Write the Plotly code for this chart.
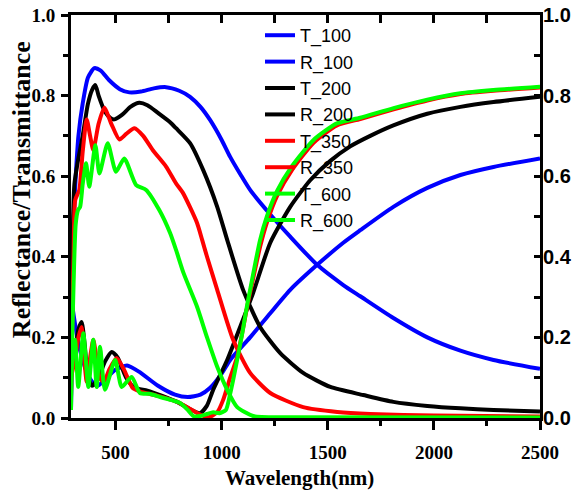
import plotly.graph_objects as go

# ---------------- data ----------------
wl_T100 = [290, 295, 300, 305, 314, 325, 345, 370, 400, 430, 470, 520, 565, 620, 680, 738, 800, 851, 900, 946,
           1000, 1040, 1090, 1134, 1229, 1323, 1450, 1573, 1653, 1809, 1969, 2125, 2281, 2500]
T100 = [0.02, 0.20, 0.40, 0.52, 0.615, 0.70, 0.78, 0.845, 0.868, 0.862, 0.838, 0.816, 0.808, 0.810, 0.818, 0.821,
        0.812, 0.797, 0.772, 0.739, 0.690, 0.648, 0.603, 0.566, 0.505, 0.450, 0.380, 0.330, 0.302, 0.248, 0.200,
        0.167, 0.144, 0.122]

wl_R100 = [290, 310, 332, 360, 390, 415, 450, 500, 554, 610, 700, 780, 840, 900, 946, 1000, 1040, 1134, 1229,
           1323, 1450, 1573, 1653, 1809, 1969, 2125, 2281, 2500]
R100 = [0.30, 0.23, 0.17, 0.12, 0.09, 0.08, 0.095, 0.12, 0.13, 0.115, 0.08, 0.058, 0.052, 0.058, 0.075, 0.11,
        0.144, 0.20, 0.26, 0.318, 0.38, 0.435, 0.466, 0.524, 0.571, 0.603, 0.623, 0.644]

wl_T200 = [290, 295, 300, 306, 320, 345, 370, 390, 405, 420, 450, 475, 494, 530, 570, 612, 650, 700, 757, 785,
           851, 913, 979, 1026, 1101, 1181, 1276, 1384, 1512, 1667, 1809, 1969, 2125, 2281, 2500]
T200 = [0.05, 0.30, 0.50, 0.58, 0.63, 0.70, 0.78, 0.815, 0.826, 0.80, 0.76, 0.745, 0.741, 0.752, 0.772, 0.782,
        0.776, 0.757, 0.734, 0.719, 0.682, 0.615, 0.524, 0.442, 0.318, 0.226, 0.161, 0.112, 0.077, 0.057, 0.040,
        0.030, 0.024, 0.020, 0.016]

wl_R200 = [290, 310, 325, 340, 355, 370, 390, 420, 450, 482, 510, 550, 590, 650, 720, 790, 850, 898, 930, 960,
           1026, 1087, 1148, 1229, 1323, 1417, 1512, 1606, 1700, 1809, 1969, 2125, 2281, 2500]
R200 = [0.12, 0.17, 0.22, 0.238, 0.18, 0.10, 0.08, 0.10, 0.14, 0.164, 0.15, 0.10, 0.075, 0.068, 0.055, 0.040,
        0.022, 0.012, 0.030, 0.070, 0.144, 0.226, 0.310, 0.435, 0.524, 0.590, 0.638, 0.674, 0.700, 0.726, 0.755,
        0.772, 0.784, 0.797]

wl_T350 = [290, 296, 302, 310, 329, 345, 364, 380, 395, 420, 447, 480, 518, 550, 589, 630, 675, 738, 785, 818,
           884, 908, 931, 979, 1054, 1134, 1229, 1384, 1545, 1700, 2000, 2500]
T350 = [0.05, 0.25, 0.40, 0.541, 0.566, 0.66, 0.741, 0.70, 0.665, 0.73, 0.770, 0.73, 0.691, 0.705, 0.719, 0.70,
        0.665, 0.624, 0.582, 0.558, 0.484, 0.442, 0.40, 0.318, 0.194, 0.112, 0.062, 0.027, 0.015, 0.010, 0.006,
        0.004]

wl_R350 = [290, 310, 325, 340, 352, 364, 380, 395, 410, 425, 445, 470, 505, 540, 580, 620, 700, 790, 860, 900,
           940, 980, 1007, 1040, 1073, 1100, 1120, 1150, 1181, 1213, 1260, 1331, 1433, 1543, 1653, 1810, 1969,
           2125, 2281, 2500]
R350 = [0.10, 0.15, 0.20, 0.226, 0.15, 0.09, 0.15, 0.194, 0.15, 0.10, 0.09, 0.12, 0.149, 0.12, 0.075, 0.065,
        0.055, 0.040, 0.020, 0.008, 0.002, 0.015, 0.045, 0.10, 0.152, 0.22, 0.276, 0.35, 0.425, 0.485, 0.550,
        0.615, 0.683, 0.726, 0.742, 0.766, 0.788, 0.804, 0.812, 0.820]

wl_T600 = [290, 296, 303, 312, 323, 333, 345, 361, 376, 405, 424, 463, 502, 541, 597, 644, 706, 757, 785, 820,
           884, 931, 979, 1026, 1073, 1148, 1300, 2500]
T600 = [0.02, 0.20, 0.35, 0.48, 0.516, 0.524, 0.58, 0.632, 0.574, 0.677, 0.607, 0.682, 0.611, 0.644, 0.578,
        0.566, 0.516, 0.459, 0.417, 0.360, 0.276, 0.200, 0.127, 0.070, 0.027, 0.005, 0.002, 0.001]

wl_R600 = [290, 300, 309, 324, 348, 372, 395, 411, 427, 450, 498, 529, 576, 615, 660, 710, 760, 804, 840, 866,
           900, 931, 960, 990, 1020, 1040, 1054, 1075, 1097, 1120, 1134, 1181, 1213, 1260, 1331, 1433, 1543,
           1653, 1810, 1969, 2125, 2281, 2500]
R600 = [0.10, 0.17, 0.194, 0.077, 0.21, 0.077, 0.194, 0.077, 0.177, 0.07, 0.144, 0.077, 0.102, 0.062, 0.060,
        0.052, 0.045, 0.037, 0.020, 0.005, 0.005, 0.010, 0.014, 0.012, 0.020, 0.060, 0.094, 0.150, 0.21, 0.28,
        0.318, 0.442, 0.50, 0.562, 0.625, 0.690, 0.731, 0.745, 0.769, 0.790, 0.806, 0.814, 0.822]

series = [
    ("T_100", wl_T100, T100, "#0000FF"),
    ("R_100", wl_R100, R100, "#0000FF"),
    ("T_200", wl_T200, T200, "#000000"),
    ("R_200", wl_R200, R200, "#000000"),
    ("T_350", wl_T350, T350, "#FF0000"),
    ("R_350", wl_R350, R350, "#FF0000"),
    ("T_600", wl_T600, T600, "#00FF00"),
    ("R_600", wl_R600, R600, "#00FF00"),
]

x_ticks = [500, 1000, 1500, 2000, 2500]
y_ticks = [0.0, 0.2, 0.4, 0.6, 0.8, 1.0]

fig = go.Figure()
for name, xs, ys, col in series:
    fig.add_trace(go.Scatter(x=xs, y=ys, name=name, mode="lines",
                             line=dict(color=col, width=4, shape="spline", smoothing=0.6)))

# invisible trace to activate secondary axes
fig.add_trace(go.Scatter(x=[290], y=[0], xaxis="x2", yaxis="y2", mode="markers",
                         marker=dict(opacity=0), showlegend=False, hoverinfo="skip"))

serif_bold = dict(family="Liberation Serif", size=19, color="black", weight="bold")

fig.update_layout(
    width=576, height=490,
    margin=dict(l=71, r=36, t=15, b=72, autoexpand=False),
    paper_bgcolor="white", plot_bgcolor="white",
    showlegend=True,
    legend=dict(x=0.403, y=0.995, xanchor="left", yanchor="top",
                bgcolor="rgba(0,0,0,0)", borderwidth=0,
                font=dict(family="Liberation Sans", size=18, color="black"),
                tracegroupgap=0),
    xaxis=dict(range=[290, 2500], tickvals=x_ticks, ticktext=[str(v) for v in x_ticks],
               ticks="outside", ticklen=9, tickwidth=3, tickcolor="black",
               minor=dict(dtick=250, tick0=0, ticks="outside", ticklen=5, tickwidth=3, tickcolor="black"),
               showline=True, linewidth=3, linecolor="black", showgrid=False, zeroline=False,
               tickfont=serif_bold, ticklabelstandoff=6, automargin=False),
    xaxis2=dict(range=[290, 2500], overlaying="x", side="top", dtick=250, tick0=0,
                ticks="inside", ticklen=8, tickwidth=3, tickcolor="black", showticklabels=False,
                showline=True, linewidth=3, linecolor="black", showgrid=False, zeroline=False,
                automargin=False),
    yaxis=dict(range=[0, 1], tickvals=y_ticks, ticktext=[f"{v:.1f}" for v in y_ticks],
               ticks="outside", ticklen=7, tickwidth=3, tickcolor="black",
               minor=dict(dtick=0.1, tick0=0, ticks="outside", ticklen=5, tickwidth=3, tickcolor="black"),
               showline=True, linewidth=3, linecolor="black", showgrid=False, zeroline=False,
               tickfont=serif_bold, ticklabelstandoff=2, automargin=False),
    yaxis2=dict(range=[0, 1], overlaying="y", side="right", tickvals=y_ticks,
                ticktext=[f"{v:.1f}" for v in y_ticks],
                ticks="inside", ticklen=6, tickwidth=3, tickcolor="black",
                minor=dict(dtick=0.1, tick0=0, ticks="inside", ticklen=6, tickwidth=3, tickcolor="black"),
                showline=True, linewidth=3, linecolor="black", showgrid=False, zeroline=False,
                tickfont=dict(family="Liberation Sans", size=20, color="black", weight="bold"),
                ticklabelstandoff=-4, automargin=False),
    annotations=[
        dict(text="Wavelength(nm)", xref="paper", yref="paper", x=0.488, y=-0.149,
             xanchor="center", yanchor="middle", showarrow=False,
             font=dict(family="Liberation Serif", size=21, color="black", weight="bold")),
        dict(text="Reflectance/Transmittance", xref="paper", yref="paper", x=-0.104, y=0.566,
             xanchor="center", yanchor="middle", textangle=-90, showarrow=False,
             font=dict(family="Liberation Serif", size=26, color="black", weight="bold")),
    ],
)

fig.write_html("out.html", config={"displayModeBar": False},
               post_script="document.body.style.margin='0';document.body.style.overflow='hidden';")
